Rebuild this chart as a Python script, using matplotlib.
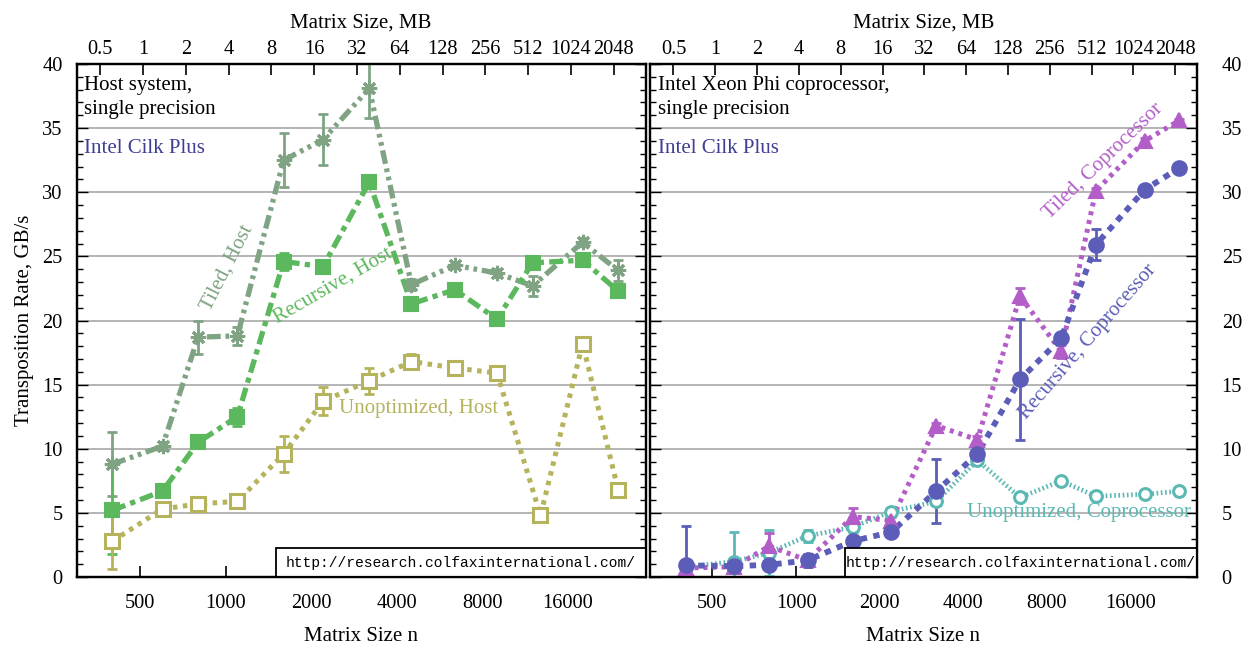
import numpy as np
import matplotlib
matplotlib.use("Agg")
import matplotlib.pyplot as plt
from matplotlib.ticker import FixedLocator, NullLocator, MultipleLocator
from matplotlib.patches import Rectangle

plt.rcParams['font.family'] = ['Liberation Serif', 'DejaVu Serif']

# ---- data ----
n_sizes = [400, 600, 800, 1100, 1600, 2200, 3200, 4500, 6400, 9000, 12000, 18000, 24000]
n_sizes_unopt_host = [400, 600, 800, 1100, 1600, 2200, 3200, 4500, 6400, 9000, 12800, 18000, 24000]

tiled_host = [8.8, 10.2, 18.7, 18.8, 32.5, 34.1, 38.1, 22.8, 24.3, 23.7, 22.7, 26.1, 23.9]
tiled_host_err = [2.5, 0.3, 1.3, 0.7, 2.1, 2.0, 2.3, 0.4, 0.2, 0.3, 0.8, 0.3, 0.8]
recursive_host = [5.2, 6.7, 10.5, 12.5, 24.6, 24.2, 30.8, 21.3, 22.4, 20.1, 24.5, 24.7, 22.3]
recursive_host_err = [3.4, 0.2, 0.3, 0.7, 0.7, 0.2, 0.2, 0.2, 0.2, 0.2, 0.2, 0.2, 0.2]
unopt_host = [2.8, 5.3, 5.7, 5.9, 9.6, 13.7, 15.3, 16.8, 16.3, 15.9, 4.8, 18.2, 6.8]
unopt_host_err = [2.2, 0.3, 0.5, 0.2, 1.4, 1.1, 1.0, 0.6, 0.3, 0.3, 0.4, 0.3, 0.2]

recursive_cop = [0.9, 0.85, 0.95, 1.3, 2.8, 3.5, 6.7, 9.6, 15.4, 18.6, 25.9, 30.2, 31.9]
recursive_cop_err = [3.1, 0.2, 0.2, 0.5, 0.2, 0.2, 2.5, 0.4, 4.7, 0.3, 1.2, 0.2, 0.1]
tiled_cop = [0.7, 0.8, 2.4, 1.3, 4.7, 4.4, 11.8, 10.7, 21.9, 17.6, 30.1, 34.0, 35.6]
tiled_cop_err = [0.6, 0.2, 1.0, 0.2, 0.7, 0.3, 0.2, 0.3, 0.6, 0.5, 0.2, 0.2, 0.1]
unopt_cop = [0.8, 1.2, 1.9, 3.2, 3.9, 5.1, 5.9, 9.1, 6.2, 7.5, 6.3, 6.45, 6.7]
unopt_cop_err = [0.3, 2.3, 1.8, 0.5, 0.4, 0.3, 0.3, 0.4, 0.2, 0.2, 0.2, 0.2, 0.1]

bottom_ticks = [500, 1000, 2000, 4000, 8000, 16000]
mb_ticks = [0.5, 1, 2, 4, 8, 16, 32, 64, 128, 256, 512, 1024, 2048]
mb_labels = ['0.5', '1', '2', '4', '8', '16', '32', '64', '128', '256', '512', '1024', '2048']

# ---- colours ----
C_TILED_H = '#7fa383'
C_REC_H = '#5cb85c'
C_UNOPT_H = '#b5b35c'
C_REC_C = '#5b5db8'
C_TILED_C = '#b35ec8'
C_UNOPT_C = '#5bb8b3'
C_CILK = '#3e3e94'
GRID = '#a8a8a8'

TICK_FS = 14.7
LABEL_FS = 15

W, H = 1247, 648
fig = plt.figure(figsize=(W / 100, H / 100), dpi=100)

def frac(x0, x1, ytop, ybot):
    return [x0 / W, (H - ybot) / H, (x1 - x0) / W, (ybot - ytop) / H]

axL = fig.add_axes(frac(76.5, 645.7, 64, 577))
axR = fig.add_axes(frac(650, 1196.7, 64, 577))


def n_of_mb(mb):
    return np.sqrt(np.asarray(mb, dtype=float) * 2**20 / 4.0)


def setup(ax, xlim, ylabel_side):
    ax.set_xscale('log')
    ax.set_xlim(*xlim)
    ax.set_ylim(0, 40)
    ax.xaxis.set_major_locator(FixedLocator(bottom_ticks))
    ax.xaxis.set_minor_locator(NullLocator())
    ax.set_xticklabels([str(t) for t in bottom_ticks])
    ax.yaxis.set_major_locator(MultipleLocator(5))
    ax.yaxis.set_minor_locator(MultipleLocator(1))
    ax.grid(axis='y', which='major', color=GRID, lw=1.2, zorder=0)
    ax.set_axisbelow(True)
    ax.tick_params(axis='x', which='major', direction='in', length=8, width=1.2,
                   labelsize=TICK_FS, pad=12, top=False)
    ax.tick_params(axis='y', which='both', direction='in', left=True, right=True,
                   width=1.0, labelsize=TICK_FS)
    ax.tick_params(axis='y', which='major', length=8)
    ax.tick_params(axis='y', which='minor', length=4)
    if ylabel_side == 'left':
        ax.tick_params(axis='y', which='both', labelleft=True, labelright=False, pad=10)
    else:
        ax.tick_params(axis='y', which='both', labelleft=False, labelright=True, pad=18)
    for s in ax.spines.values():
        s.set_linewidth(1.6)
    ax.set_xlabel('Matrix Size n', fontsize=LABEL_FS, labelpad=10)

    top = ax.twiny()
    top.set_xscale('log')
    top.set_xlim(*xlim)
    top.xaxis.set_major_locator(FixedLocator(n_of_mb(mb_ticks)))
    top.xaxis.set_minor_locator(NullLocator())
    top.set_xticklabels(mb_labels)
    top.tick_params(axis='x', which='major', direction='in', length=8, width=1.2,
                    labelsize=TICK_FS, pad=3.5)
    top.set_xlabel('Matrix Size, MB', fontsize=LABEL_FS, labelpad=9)
    for s in top.spines.values():
        s.set_linewidth(1.6)
    return top


setup(axL, (299, 30000), 'left')
setup(axR, (298, 27700), 'right')
axL.set_ylabel('Transposition Rate, GB/s', fontsize=LABEL_FS, labelpad=6)


def series(ax, x, y, e, color, marker, ms, ls, lw, mfc=None, mew=1.5, z=3):
    ax.errorbar(x, y, yerr=e, fmt='none', ecolor=color, elinewidth=2.0,
                capsize=3.5, capthick=2.0, zorder=z)
    ax.plot(x, y, color=color, lw=lw, linestyle=ls, dash_capstyle='butt',
            solid_capstyle='butt', zorder=z, clip_on=True)
    ax.plot(x, y, linestyle='none', marker=marker, ms=ms, color=color,
            mfc=mfc if mfc is not None else color, mec=color, mew=mew, zorder=z + 0.5)


# Host panel
series(axL, n_sizes, tiled_host, tiled_host_err, C_TILED_H, (8, 2, 0), 11,
       (0, (2.6, 0.9, 0.7, 0.9, 0.7, 0.9)), 3.8, mew=2.2)
series(axL, n_sizes, recursive_host, recursive_host_err, C_REC_H, 's', 10,
       (0, (2.6, 1.0, 1.0, 1.0)), 3.8)
series(axL, n_sizes_unopt_host, unopt_host, unopt_host_err, C_UNOPT_H, 's', 9.5,
       (0, (0.9, 1.1)), 3.6, mfc='white', mew=2.2)

# Coprocessor panel
series(axR, n_sizes, unopt_cop, unopt_cop_err, C_UNOPT_C, 'o', 8.5,
       (0, (0.35, 0.55)), 3.4, mfc='white', mew=2.2)
series(axR, n_sizes, tiled_cop, tiled_cop_err, C_TILED_C, '^', 10,
       (0, (0.8, 1.0)), 3.6)
series(axR, n_sizes, recursive_cop, recursive_cop_err, C_REC_C, 'o', 10.5,
       (0, (1.1, 1.1)), 4.2)

# panel annotations
for ax, title in ((axL, 'Host system,\nsingle precision'),
                  (axR, 'Intel Xeon Phi coprocessor,\nsingle precision')):
    ax.text(0.014, 0.976, title, transform=ax.transAxes, fontsize=15,
            va='top', ha='left', linespacing=1.33, zorder=6)
    ax.text(0.014, 0.835, 'Intel Cilk Plus', transform=ax.transAxes,
            fontsize=15, color=C_CILK, va='center', ha='left', zorder=6)

# URL boxes (touching the right and bottom spines)
url = 'http://research.colfaxinternational.com/'
for ax, x0px, ax_left, ax_w in ((axL, 276, 76.5, 569.2), (axR, 845, 650, 546.7)):
    bx = (x0px - ax_left) / ax_w
    bh = (577 - 548) / 513.0
    ax.add_patch(Rectangle((bx, 0), 1 - bx, bh, transform=ax.transAxes,
                           fc='white', ec='black', lw=1.3, zorder=7))
    ax.text((bx + 1) / 2, bh / 2, url, transform=ax.transAxes, ha='center',
            va='center', family='Liberation Mono', fontsize=10.5, zorder=8)


def px_text(px, py, s, color, rot, fs=15):
    fig.text(px / W, 1 - py / H, s, color=color, rotation=rot, fontsize=fs,
             ha='center', va='center', rotation_mode='anchor', zorder=8)


px_text(227, 268, 'Tiled, Host', C_TILED_H, 63)
px_text(333, 286, 'Recursive, Host', C_REC_H, 30)
px_text(419, 409, 'Unoptimized, Host', C_UNOPT_H, 0)
px_text(1103, 161, 'Tiled, Coprocessor', C_TILED_C, 44)
px_text(1088, 342, 'Recursive, Coprocessor', C_REC_C, 49)
px_text(1079, 512, 'Unoptimized, Coprocessor', C_UNOPT_C, 0)

fig.savefig('out.png', dpi=100)
